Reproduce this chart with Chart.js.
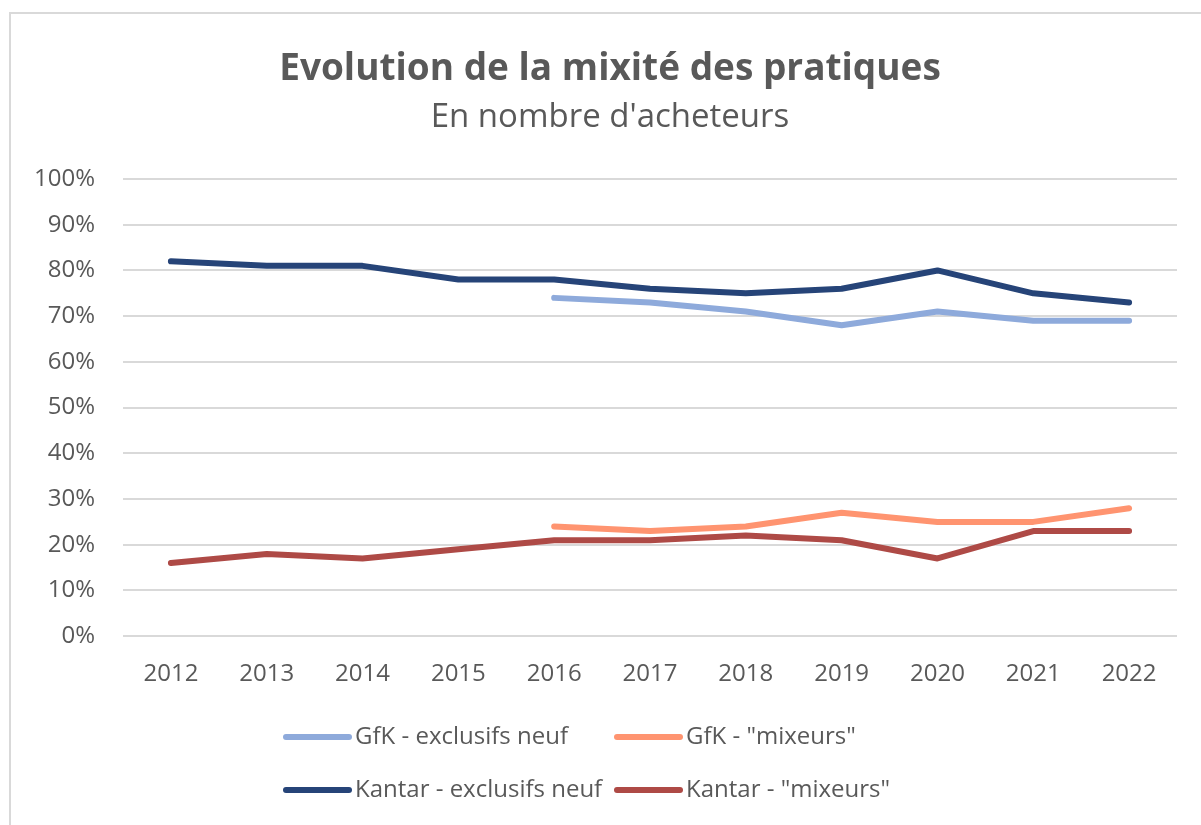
<!DOCTYPE html>
<html><head><meta charset="utf-8">
<script src="https://cdn.jsdelivr.net/npm/chart.js@4.4.1/dist/chart.umd.min.js"></script>
<style>
html,body{margin:0;padding:0;background:#fff;width:1201px;height:825px;overflow:hidden}
#frame{position:absolute;left:9px;top:12px;width:1300px;height:900px;border:2px solid #d9d9d9;box-sizing:border-box}
#wrap{position:absolute;left:10px;top:13px;width:1200px;height:812px}
</style></head><body>
<div id="frame"></div>
<div id="wrap"><canvas id="c"></canvas></div>
<script>
const years = ['2012','2013','2014','2015','2016','2017','2018','2019','2020','2021','2022'];
const gfkExclusifs    = [null, null, null, null, 74, 73, 71, 68, 71, 69, 69];
const gfkMixeurs      = [null, null, null, null, 24, 23, 24, 27, 25, 25, 28];
const kantarExclusifs = [82, 81, 81, 78, 78, 76, 75, 76, 80, 75, 73];
const kantarMixeurs   = [16, 18, 17, 19, 21, 21, 22, 21, 17, 23, 23];
const seriesLabels = ['GfK - exclusifs neuf', 'GfK - "mixeurs"', 'Kantar - exclusifs neuf', 'Kantar - "mixeurs"'];
const yTickValues = [0, 10, 20, 30, 40, 50, 60, 70, 80, 90, 100];
const titleText = 'Evolution de la mixité des pratiques';
const subtitleText = "En nombre d'acheteurs";

const colors = ['#8eaadb', '#ff9470', '#264478', '#ae4a46'];
const FONT = "'Open Sans', sans-serif";
const TEXT = '#595959';

const legendPlugin = {
  id: 'gridLegend',
  afterDraw(chart) {
    const ctx = chart.ctx;
    const colX = [273, 604];
    const rowY = [724, 777];
    ctx.save();
    ctx.font = "24px " + FONT;
    ctx.fillStyle = TEXT;
    ctx.textBaseline = 'middle';
    ctx.textAlign = 'left';
    chart.data.datasets.forEach((ds, i) => {
      const x = colX[i % 2], y = rowY[Math.floor(i / 2)];
      ctx.strokeStyle = ds.borderColor;
      ctx.lineWidth = 6;
      ctx.lineCap = 'round';
      ctx.beginPath();
      ctx.moveTo(x + 3, y);
      ctx.lineTo(x + 66, y);
      ctx.stroke();
      ctx.fillText(ds.label, x + 72, y);
    });
    ctx.restore();
  }
};

const seriesData = [gfkExclusifs, gfkMixeurs, kantarExclusifs, kantarMixeurs];

new Chart(document.getElementById('c'), {
  type: 'line',
  data: {
    labels: years,
    datasets: seriesData.map((d, i) => ({
      label: seriesLabels[i],
      data: d,
      borderColor: colors[i],
      backgroundColor: colors[i],
      borderWidth: 6,
      borderCapStyle: 'round',
      borderJoinStyle: 'round',
      pointRadius: 0,
      tension: 0,
      spanGaps: false,
      yAxisID: 'y'
    }))
  },
  options: {
    responsive: true,
    maintainAspectRatio: false,
    animation: false,
    layout: { padding: { left: 0, right: 0, top: 0, bottom: 112 } },
    plugins: {
      legend: { display: false },
      tooltip: { enabled: false },
      title: {
        display: true, text: titleText, color: TEXT,
        font: { family: FONT, size: 37, weight: 'bold', lineHeight: 1.2 },
        padding: { top: 34, bottom: 6 }
      },
      subtitle: {
        display: true, text: subtitleText, color: TEXT,
        font: { family: FONT, size: 33, weight: 'normal', lineHeight: 1.2 },
        padding: { top: 0, bottom: 42 }
      }
    },
    scales: {
      x: {
        offset: true,
        grid: { display: false, drawTicks: false },
        border: { display: false },
        ticks: { color: TEXT, font: { family: FONT, size: 24 }, padding: 24, maxRotation: 0 }
      },
      y: {
        position: 'left',
        min: 0, max: 100,
        afterFit(scale) { scale.width = 113; },
        afterBuildTicks(scale) { scale.ticks = yTickValues.map(v => ({ value: v })); },
        grid: { color: '#d9d9d9', lineWidth: 2, drawTicks: false },
        border: { display: false },
        ticks: { color: TEXT, font: { family: FONT, size: 24 }, padding: 28, callback: v => v + '%' }
      },
      yRightSpace: {
        position: 'right',
        min: 0, max: 100,
        afterFit(scale) { scale.width = 33; },
        grid: { display: false, drawTicks: false },
        border: { display: false },
        ticks: { display: false }
      }
    }
  },
  plugins: [legendPlugin]
});
</script>
</body></html>
